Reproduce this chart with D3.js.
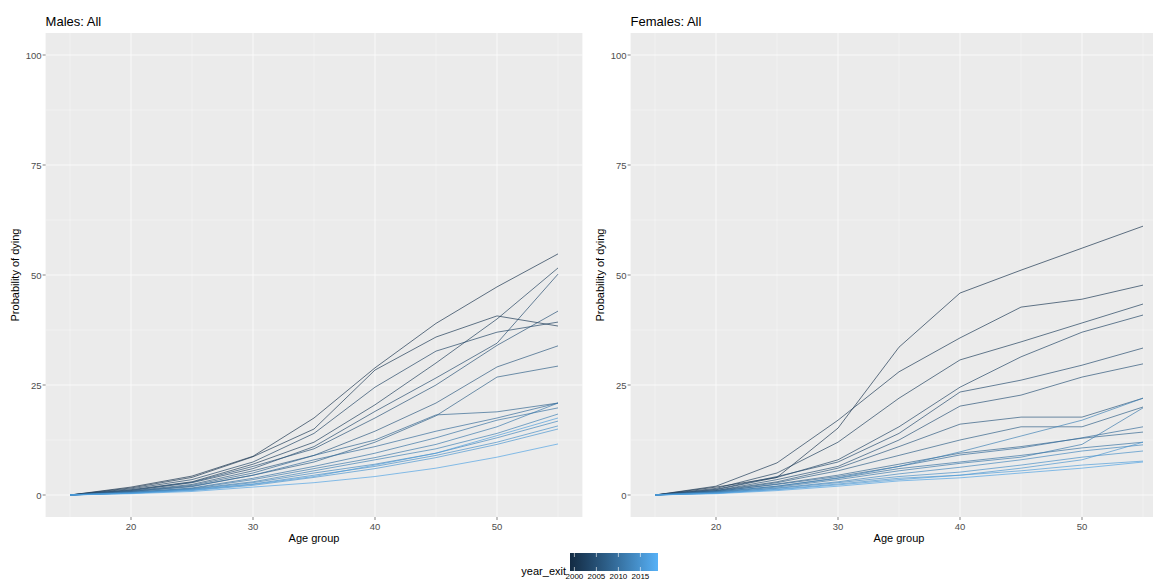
<!DOCTYPE html>
<meta charset="utf-8">
<script src="https://cdn.jsdelivr.net/npm/d3@7"></script>
<style>
body { margin: 0; background: #fff; font-family: "Liberation Sans", Arial, sans-serif; }
.panel { fill: #EBEBEB; }
.grid-major { stroke: #fff; stroke-width: 0.7px; }
.grid-minor { stroke: #fff; stroke-width: 0.35px; }
.tick-label { font-size: 9.5px; fill: #4D4D4D; }
.axis-title { font-size: 11px; fill: #000; }
.panel-title { font-size: 13px; fill: #000; }
</style>
<body>
<script>

// age groups on the x axis
var ages = [15, 20, 25, 30, 35, 40, 45, 50, 55];
var years = [2000, 2001, 2002, 2003, 2004, 2005, 2006, 2007, 2008,
             2009, 2010, 2011, 2012, 2013, 2014, 2015, 2016, 2017];

// probability of dying by age group, one row per exit year
var males = [
  [0, 1.8, 4.3, 8.8, 17.5, 28.9, 39.0, 47.3, 54.8],
  [0, 1.6, 4.0, 8.7, 15.0, 28.4, 35.9, 40.7, 38.4],
  [0, 1.2, 3.0, 7.0, 12.0, 20.5, 30.0, 40.0, 51.6],
  [0, 1.4, 3.5, 7.5, 14.0, 24.5, 32.7, 37.0, 39.3],
  [0, 1.0, 2.8, 6.0, 11.0, 19.0, 26.6, 34.5, 50.2],
  [0, 1.1, 2.9, 6.5, 10.5, 17.5, 25.0, 34.0, 41.8],
  [0, 0.9, 2.4, 5.5, 9.0, 14.5, 20.9, 29.1, 33.9],
  [0, 0.8, 2.0, 4.5, 7.5, 12.0, 18.0, 26.8, 29.3],
  [0, 0.8, 2.2, 5.0, 9.0, 12.5, 18.2, 18.9, 20.9],
  [0, 0.7, 1.9, 4.5, 8.0, 11.0, 14.5, 17.5, 20.9],
  [0, 0.6, 1.6, 3.8, 6.5, 9.5, 13.0, 17.0, 19.8],
  [0, 0.6, 1.5, 3.5, 6.0, 8.5, 11.5, 15.5, 20.9],
  [0, 0.5, 1.4, 3.0, 5.5, 8.0, 10.5, 14.0, 18.4],
  [0, 0.5, 1.3, 2.8, 5.0, 7.0, 9.5, 13.0, 16.8],
  [0, 0.5, 1.2, 2.5, 4.5, 6.5, 9.0, 12.0, 15.7],
  [0, 0.4, 1.0, 2.2, 4.0, 6.0, 8.5, 11.5, 15.0],
  [0, 0.4, 1.1, 2.4, 4.2, 6.8, 9.5, 13.5, 17.5],
  [0, 0.3, 0.8, 1.8, 2.8, 4.2, 6.1, 8.6, 11.6]
];

var females = [
  [0, 1.8, 4.0, 15.2, 33.6, 45.9, 51.1, 56.1, 61.1],
  [0, 2.0, 7.3, 17.0, 28.0, 35.7, 42.7, 44.5, 47.7],
  [0, 1.5, 5.0, 12.0, 22.0, 30.7, 34.8, 39.1, 43.4],
  [0, 1.2, 4.0, 8.0, 15.5, 24.5, 31.4, 37.0, 40.9],
  [0, 1.3, 4.2, 7.5, 14.0, 23.4, 26.1, 29.5, 33.4],
  [0, 1.0, 3.5, 6.5, 12.5, 20.2, 22.7, 26.8, 29.8],
  [0, 1.0, 3.0, 6.1, 11.0, 16.1, 17.7, 17.7, 22.0],
  [0, 0.9, 2.8, 5.5, 9.0, 12.5, 15.5, 15.5, 20.0],
  [0, 0.8, 2.5, 4.5, 7.0, 9.5, 11.0, 12.9, 14.3],
  [0, 0.8, 2.4, 4.2, 6.5, 9.1, 10.7, 13.0, 15.5],
  [0, 0.7, 2.0, 3.8, 6.0, 7.5, 9.0, 10.7, 12.0],
  [0, 0.6, 1.8, 3.5, 5.5, 7.2, 8.6, 11.5, 19.8],
  [0, 0.7, 2.0, 3.9, 6.5, 9.8, 13.4, 17.0, 22.0],
  [0, 0.5, 1.6, 3.0, 4.8, 6.3, 8.0, 10.0, 11.4],
  [0, 0.5, 1.5, 2.8, 4.2, 5.2, 6.8, 8.6, 10.0],
  [0, 0.4, 1.3, 2.5, 3.8, 4.5, 6.1, 8.0, 12.0],
  [0, 0.4, 1.2, 2.3, 3.5, 4.5, 5.5, 6.8, 7.7],
  [0, 0.3, 1.0, 2.0, 3.2, 3.9, 5.0, 6.1, 7.5]
];

var xTicks = [20, 30, 40, 50],
    xMinor = [15, 25, 35, 45, 55],
    yTicks = [0, 25, 50, 75, 100],
    yMinor = [12.5, 37.5, 62.5, 87.5],
    legendTicks = [2000, 2005, 2010, 2015];

var w = 1153, h = 580;

var svg = d3.select("body").append("svg")
    .attr("width", w)
    .attr("height", h);

var color = d3.scaleLinear()
    .domain([1999, 2019])
    .range(["#132B43", "#56B1F7"])
    .interpolate(d3.interpolateLab);

var y = d3.scaleLinear().domain([-5, 105]).range([517, 33]);

function drawPanel(title, rows, left, right) {
  var x = d3.scaleLinear().domain([13, 57]).range([left, right]);
  var g = svg.append("g");

  g.append("rect").attr("class", "panel")
    .attr("x", left).attr("y", y(105))
    .attr("width", right - left).attr("height", y(-5) - y(105));

  g.selectAll(".ym").data(yMinor).enter().append("line")
    .attr("class", "grid-minor")
    .attr("x1", left).attr("x2", right)
    .attr("y1", function(d) { return y(d); }).attr("y2", function(d) { return y(d); });
  g.selectAll(".xm").data(xMinor).enter().append("line")
    .attr("class", "grid-minor")
    .attr("y1", y(-5)).attr("y2", y(105))
    .attr("x1", function(d) { return x(d); }).attr("x2", function(d) { return x(d); });
  g.selectAll(".yg").data(yTicks).enter().append("line")
    .attr("class", "grid-major")
    .attr("x1", left).attr("x2", right)
    .attr("y1", function(d) { return y(d); }).attr("y2", function(d) { return y(d); });
  g.selectAll(".xg").data(xTicks).enter().append("line")
    .attr("class", "grid-major")
    .attr("y1", y(-5)).attr("y2", y(105))
    .attr("x1", function(d) { return x(d); }).attr("x2", function(d) { return x(d); });

  var line = d3.line()
    .x(function(d, i) { return x(ages[i]); })
    .y(function(d) { return y(d); });

  g.selectAll(".series").data(rows).enter().append("path")
    .attr("fill", "none")
    .attr("stroke", function(d, i) { return color(years[i]); })
    .attr("stroke-width", 0.8)
    .attr("stroke-opacity", 0.85)
    .attr("d", line);

  // axes ticks + labels
  g.selectAll(".yt").data(yTicks).enter().append("line")
    .attr("stroke", "#333").attr("stroke-width", 0.6)
    .attr("x1", left - 3).attr("x2", left)
    .attr("y1", function(d) { return y(d); }).attr("y2", function(d) { return y(d); });
  g.selectAll(".yl").data(yTicks).enter().append("text")
    .attr("class", "tick-label")
    .attr("text-anchor", "end")
    .attr("x", left - 4)
    .attr("y", function(d) { return y(d) + 3.5; })
    .text(function(d) { return d; });
  g.selectAll(".xt").data(xTicks).enter().append("line")
    .attr("stroke", "#333").attr("stroke-width", 0.6)
    .attr("y1", y(-5)).attr("y2", y(-5) + 3)
    .attr("x1", function(d) { return x(d); }).attr("x2", function(d) { return x(d); });
  g.selectAll(".xl").data(xTicks).enter().append("text")
    .attr("class", "tick-label")
    .attr("text-anchor", "middle")
    .attr("y", y(-5) + 13)
    .attr("x", function(d) { return x(d); })
    .text(function(d) { return d; });

  g.append("text").attr("class", "axis-title")
    .attr("text-anchor", "middle")
    .attr("x", (left + right) / 2).attr("y", 542)
    .text("Age group");
  g.append("text").attr("class", "axis-title")
    .attr("text-anchor", "middle")
    .attr("transform", "translate(" + (left - 27) + "," + y(50) + ") rotate(-90)")
    .text("Probability of dying");
  g.append("text").attr("class", "panel-title")
    .attr("x", left).attr("y", 26)
    .text(title);
}

drawPanel("Males: All", males, 45.6, 582.4);
drawPanel("Females: All", females, 630.6, 1167.4);

// colour bar legend
var lx = d3.scaleLinear().domain([1999, 2019]).range([570, 658]);
var defs = svg.append("defs");
var grad = defs.append("linearGradient").attr("id", "bar");
d3.range(0, 1.01, 0.1).forEach(function(t) {
  grad.append("stop").attr("offset", t)
    .attr("stop-color", color(1999 + 20 * t));
});
svg.append("rect")
  .attr("x", 570).attr("y", 553).attr("width", 88).attr("height", 18)
  .attr("fill", "url(#bar)");
svg.selectAll(".lt").data(legendTicks).enter().append("line")
  .attr("stroke", "#fff").attr("stroke-width", 0.6)
  .attr("x1", function(d) { return lx(d); }).attr("x2", function(d) { return lx(d); })
  .attr("y1", 553).attr("y2", 557);
svg.selectAll(".lb").data(legendTicks).enter().append("line")
  .attr("stroke", "#fff").attr("stroke-width", 0.6)
  .attr("x1", function(d) { return lx(d); }).attr("x2", function(d) { return lx(d); })
  .attr("y1", 567).attr("y2", 571);
svg.selectAll(".ll").data(legendTicks).enter().append("text")
  .style("font-size", "8px")
  .attr("fill", "#000")
  .attr("text-anchor", "middle")
  .attr("x", function(d) { return lx(d); })
  .attr("y", 579)
  .text(function(d) { return d; });
svg.append("text").attr("class", "axis-title")
  .attr("x", 566).attr("y", 575)
  .attr("text-anchor", "end")
  .text("year_exit");

</script>
</body>
